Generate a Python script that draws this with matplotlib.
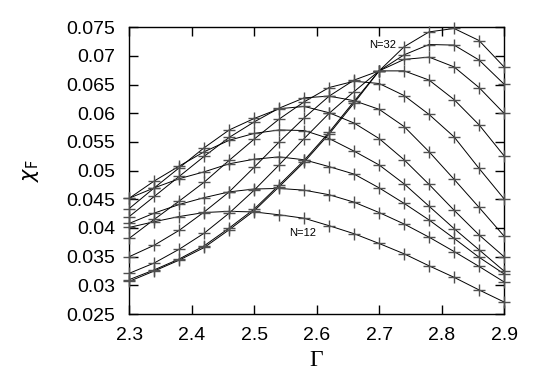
import numpy as np
import matplotlib
matplotlib.use("Agg")
import matplotlib.pyplot as plt

gamma = [2.30, 2.34, 2.38, 2.42, 2.46, 2.50, 2.54, 2.58, 2.62, 2.66, 2.70, 2.74, 2.78, 2.82, 2.86, 2.90]

chi_N12 = [0.0401, 0.0411, 0.0420, 0.0427, 0.0429, 0.0428, 0.0423, 0.0417, 0.0404, 0.0390, 0.0373, 0.0355, 0.0334, 0.0314, 0.0292, 0.0271]
chi_N14 = [0.0408, 0.0426, 0.0441, 0.0453, 0.0463, 0.0468, 0.0469, 0.0466, 0.0458, 0.0445, 0.0427, 0.0407, 0.0384, 0.0359, 0.0333, 0.0306]
chi_N16 = [0.0452, 0.0470, 0.0486, 0.0498, 0.0512, 0.0520, 0.0524, 0.0519, 0.0507, 0.0494, 0.0470, 0.0443, 0.0414, 0.0382, 0.0349, 0.0320]
chi_N18 = [0.0452, 0.0482, 0.0508, 0.0533, 0.0553, 0.0565, 0.0571, 0.0570, 0.0556, 0.0534, 0.0510, 0.0477, 0.0438, 0.0399, 0.0362, 0.0325]
chi_N20 = [0.0434, 0.0470, 0.0505, 0.0540, 0.0571, 0.0591, 0.0608, 0.0612, 0.0601, 0.0583, 0.0556, 0.0519, 0.0476, 0.0431, 0.0388, 0.0350]
chi_N22 = [0.0420, 0.0455, 0.0490, 0.0525, 0.0558, 0.0585, 0.0609, 0.0627, 0.0630, 0.0622, 0.0607, 0.0577, 0.0533, 0.0485, 0.0436, 0.0386]
chi_N24 = [0.0382, 0.0415, 0.0447, 0.0480, 0.0518, 0.0555, 0.0590, 0.0620, 0.0645, 0.0656, 0.0652, 0.0631, 0.0598, 0.0559, 0.0504, 0.0451]
chi_N26 = [0.0350, 0.0370, 0.0396, 0.0428, 0.0463, 0.0506, 0.0550, 0.0592, 0.0630, 0.0658, 0.0674, 0.0674, 0.0658, 0.0624, 0.0580, 0.0526]
chi_N28 = [0.0321, 0.0339, 0.0363, 0.0391, 0.0426, 0.0466, 0.0510, 0.0556, 0.0600, 0.0638, 0.0674, 0.0694, 0.0698, 0.0681, 0.0645, 0.0600]
chi_N30 = [0.0310, 0.0327, 0.0346, 0.0369, 0.0400, 0.0433, 0.0475, 0.0518, 0.0567, 0.0621, 0.0674, 0.0702, 0.0720, 0.0719, 0.0693, 0.0651]
chi_N32 = [0.0307, 0.0325, 0.0344, 0.0366, 0.0397, 0.0430, 0.0472, 0.0515, 0.0564, 0.0618, 0.0674, 0.0716, 0.0742, 0.0748, 0.0727, 0.0681]

series = [chi_N12, chi_N14, chi_N16, chi_N18, chi_N20, chi_N22,
          chi_N24, chi_N26, chi_N28, chi_N30, chi_N32]

xticks = [2.3, 2.4, 2.5, 2.6, 2.7, 2.8, 2.9]
xtick_labels = ["2.3", "2.4", "2.5", "2.6", "2.7", "2.8", "2.9"]
yticks = [0.025, 0.03, 0.035, 0.04, 0.045, 0.05, 0.055, 0.06, 0.065, 0.07, 0.075]
ytick_labels = ["0.025", "0.03", "0.035", "0.04", "0.045", "0.05", "0.055",
                "0.06", "0.065", "0.07", "0.075"]

plt.rcParams['font.family'] = ['Liberation Sans', 'DejaVu Sans']

fig = plt.figure(figsize=(5.45, 3.82), dpi=100)
ax = fig.add_axes([0.2372, 0.178, 0.9248 - 0.2372, 0.9285 - 0.178])

for s in series:
    ax.plot(gamma, s, color='black', linewidth=0.7, zorder=2)
    ax.plot(gamma, s, linestyle='none', marker='+', markersize=8,
            markeredgewidth=1.0, color='#505050', clip_on=False, zorder=3)

ax.set_xlim(2.3, 2.9)
ax.set_ylim(0.025, 0.075)
ax.set_xticks(xticks)
ax.set_xticklabels(xtick_labels)
ax.set_yticks(yticks)
ax.set_yticklabels(ytick_labels)
ax.tick_params(direction='in', length=6.5, width=1.0, top=True, right=True,
               labelsize=14)
ax.tick_params(axis='y', pad=10)
ax.tick_params(axis='x', pad=9)
for sp in ax.spines.values():
    sp.set_linewidth(1.0)

ax.set_xlabel('Γ', fontsize=17, family='Liberation Serif', labelpad=5)
ax.set_ylabel(r'$\chi_{\mathrm{F}}$', fontsize=15, labelpad=18)

ax.text(2.728, 0.0719, 'N=32', fontsize=8, ha='right', va='center')
ax.text(2.556, 0.0391, 'N=12', fontsize=8, ha='left', va='center')

fig.savefig('out.png', dpi=100)
